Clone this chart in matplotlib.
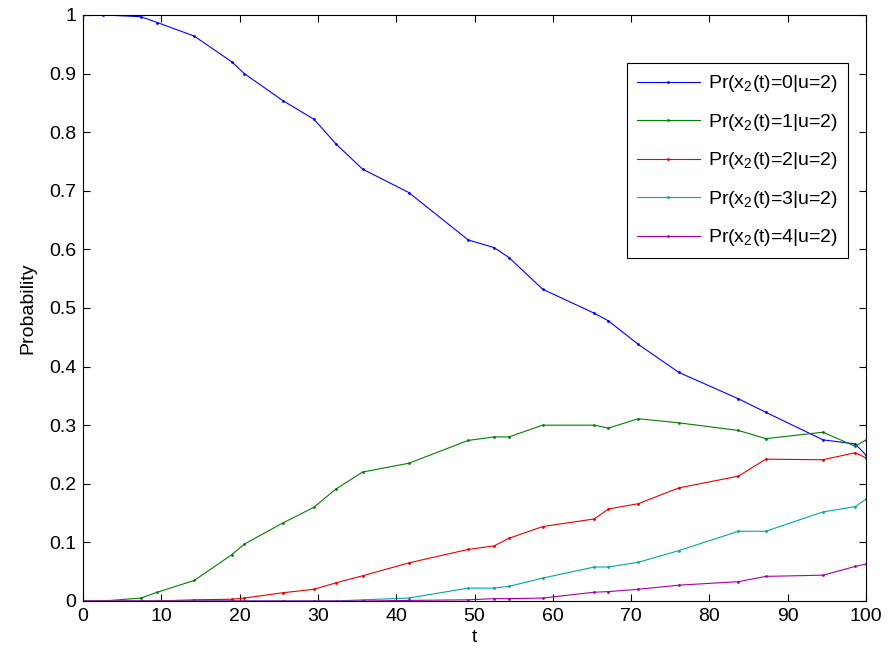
import numpy as np
import matplotlib
matplotlib.use("Agg")
import matplotlib.pyplot as plt

plt.rcParams['font.family'] = ['Liberation Sans', 'DejaVu Sans']
plt.rcParams['mathtext.fontset'] = 'custom'
plt.rcParams['mathtext.rm'] = 'Liberation Sans'
plt.rcParams['mathtext.it'] = 'Liberation Sans'

# time points (shared by all series)
t = [0, 2.6, 7.4, 9.5, 14.2, 19.0, 20.6, 25.5, 29.5, 32.3, 35.7, 41.6, 49.2,
     52.5, 54.4, 58.7, 65.3, 67.1, 70.9, 76.1, 83.7, 87.2, 94.5, 98.6, 100]

p0 = [1.0, 1.0, 0.997, 0.987, 0.964, 0.92, 0.90, 0.854, 0.822, 0.78, 0.737, 0.697, 0.616,
      0.603, 0.586, 0.532, 0.491, 0.478, 0.438, 0.39, 0.345, 0.322, 0.275, 0.268, 0.249]
p1 = [0, 0, 0.005, 0.015, 0.035, 0.079, 0.097, 0.133, 0.16, 0.191, 0.22, 0.235, 0.274,
      0.28, 0.28, 0.30, 0.30, 0.295, 0.311, 0.304, 0.291, 0.277, 0.288, 0.264, 0.275]
p2 = [0, 0, 0, 0, 0.002, 0.003, 0.005, 0.014, 0.02, 0.031, 0.043, 0.065, 0.088,
      0.094, 0.107, 0.127, 0.14, 0.157, 0.166, 0.193, 0.213, 0.242, 0.241, 0.253, 0.244]
p3 = [0, 0, 0, 0, 0, 0, 0, 0, 0, 0, 0.002, 0.005, 0.022,
      0.022, 0.025, 0.039, 0.058, 0.058, 0.066, 0.086, 0.119, 0.119, 0.152, 0.161, 0.174]
p4 = [0, 0, 0, 0, 0, 0, 0, 0, 0, 0, 0, 0.001, 0.002,
      0.004, 0.004, 0.005, 0.015, 0.016, 0.02, 0.027, 0.033, 0.042, 0.044, 0.059, 0.063]

series = [p0, p1, p2, p3, p4]
labels = ['Pr(x$_{2}$(t)=%d|u=2)' % k for k in range(5)]
colors = [(0, 0, 1), (0, 0.5, 0), (0.9, 0, 0), (0, 0.65, 0.65), (0.65, 0, 0.65)]

fig = plt.figure(figsize=(8.96, 6.5), dpi=100)
ax = fig.add_axes([0.0926, 0.0754, 0.874, 0.9016])

for y, lab, col in zip(series, labels, colors):
    ax.plot(t, y, color=col, linewidth=0.8, marker='.', markersize=2, label=lab)

ax.set_xlim(0, 100)
ax.set_ylim(0, 1)
ax.set_xticks(np.arange(0, 101, 10))
ax.set_yticks(np.arange(0, 1.01, 0.1))
ax.set_yticklabels(['0', '0.1', '0.2', '0.3', '0.4', '0.5', '0.6', '0.7', '0.8', '0.9', '1'])
ax.tick_params(direction='in', top=True, right=True, labelsize=14, length=5, width=0.8, pad=5)
for s in ax.spines.values():
    s.set_linewidth(0.8)
ax.set_xlabel('t', fontsize=14, labelpad=3)
ax.set_ylabel('Probability', fontsize=14, labelpad=9)

leg = ax.legend(loc='upper right', bbox_to_anchor=(0.977, 0.9176), fontsize=14,
                fancybox=False, edgecolor='black', framealpha=1, numpoints=1,
                handlelength=3.25, labelspacing=0.9, borderpad=0.52,
                handletextpad=0.4, borderaxespad=0)
leg.get_frame().set_linewidth(0.8)

fig.savefig('out.png', dpi=100)
